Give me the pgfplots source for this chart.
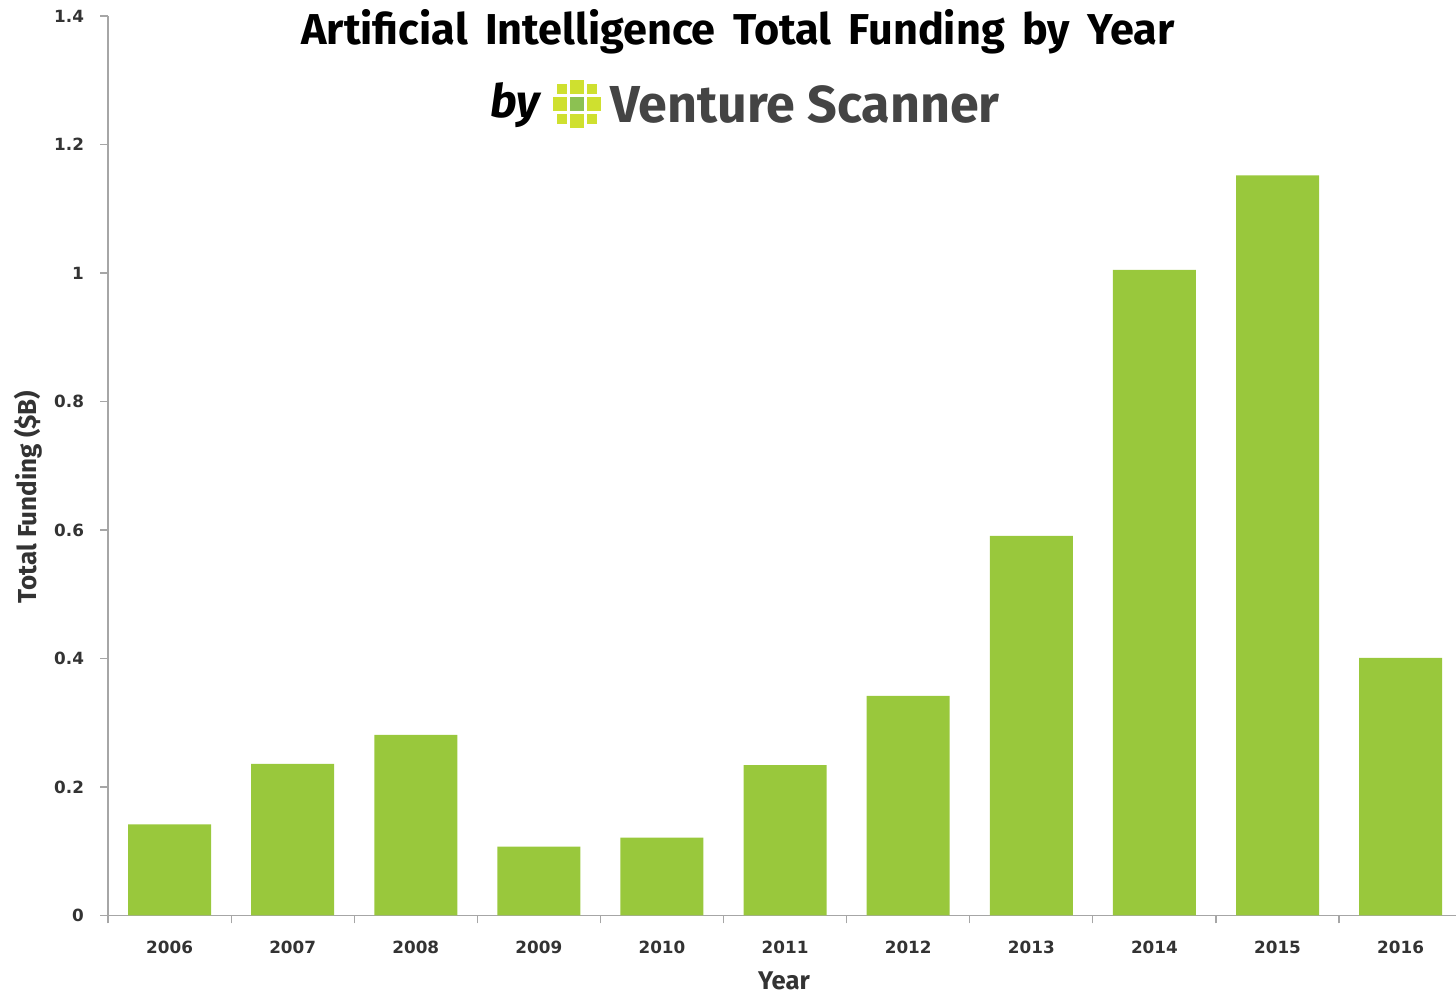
\documentclass[border=0pt]{standalone}
\usepackage{pgfplots}
\pgfplotsset{compat=1.18}
\usepackage{fontspec}
\setmainfont{Fira Sans}
\newfontfamily\tickfont{DejaVu Sans}
\newfontfamily\headfont[WordSpace=1.7]{Fira Sans}
\definecolor{barGreen}{HTML}{99C83C}
\definecolor{axisGrey}{HTML}{A6A6A6}
\definecolor{labelDark}{HTML}{333333}
\definecolor{brandGrey}{HTML}{444444}
\definecolor{logoLime}{HTML}{CFE02F}
\definecolor{logoMid}{HTML}{8CC152}
\begin{document}
\begin{tikzpicture}
\path[use as bounding box] (0pt,0pt) rectangle (728pt,497pt);
\begin{axis}[
  at={(54pt,39.25pt)}, anchor=south west,
  scale only axis,
  width=674pt, height=449.75pt,
  xmin=-0.5, xmax=10.45,
  ymin=0, ymax=1.4,
  ytick={0,0.2,0.4,0.6,0.8,1,1.2,1.4},
  yticklabels={0,0.2,0.4,0.6,0.8,1,1.2,1.4},
  xtick={0,1,2,3,4,5,6,7,8,9,10},
  xticklabels={2006,2007,2008,2009,2010,2011,2012,2013,2014,2015,2016},
  minor xtick={-0.5,0.5,1.5,2.5,3.5,4.5,5.5,6.5,7.5,8.5,9.5},
  axis x line*=bottom, axis y line*=left,
  axis line style={axisGrey,line width=0.7pt,-},
  major x tick style={draw=none},
  minor x tick style={axisGrey,line width=0.6pt},
  minor tick length=4pt,
  y tick style={axisGrey,line width=0.6pt},
  major tick length=4pt,
  tick align=outside,
  tick label style={font=\tickfont\bfseries\fontsize{8.4}{10}\selectfont,text=labelDark},
  /pgf/number format/assume math mode=true,
  xticklabel style={yshift=-5pt},
  yticklabel style={xshift=-4.5pt},
  clip=false,
  ybar, bar width=41.5pt,
]
\addplot[fill=barGreen,draw=none] coordinates {
  (0,0.142) (1,0.236) (2,0.281) (3,0.107) (4,0.121) (5,0.234)
  (6,0.342) (7,0.591) (8,1.005) (9,1.152) (10,0.401)};
\end{axis}
\begin{scope}[x=0.5pt,y=0.5pt]
% Headline and axis captions
\node[font=\headfont\bfseries\fontsize{21.6}{26}\selectfont,text=black] at (738,962)
  {Artificial Intelligence Total Funding by Year};
\node[font=\bfseries\itshape\fontsize{23}{26}\selectfont] at (515,889) {by};
\node[font=\fontsize{26}{30}\selectfont\bfseries,text=brandGrey] at (805,889) {Venture Scanner};
\node[font=\bfseries\fontsize{12.8}{15}\selectfont,text=labelDark] at (784,13) {Year};
\node[font=\bfseries\fontsize{13}{15}\selectfont,text=labelDark,rotate=90] at (28,497) {Total Funding (\$B)};
% Logo: a globe built from small squares
\begin{scope}[shift={(577,890)}]
  \fill[logoMid] (-7,-7) rectangle (7,7);
  \foreach \a/\b/\c/\d in {-7/10/7/24, -7/-24/7/-10, -24/-7/-10/7, 10/-7/24/7,
     -20/10/-10/20, 10/10/20/20, -20/-20/-10/-10, 10/-20/20/-10}
    {\fill[logoLime] (\a,\b) rectangle (\c,\d);}
\end{scope}
\end{scope}
\end{tikzpicture}
\end{document}
